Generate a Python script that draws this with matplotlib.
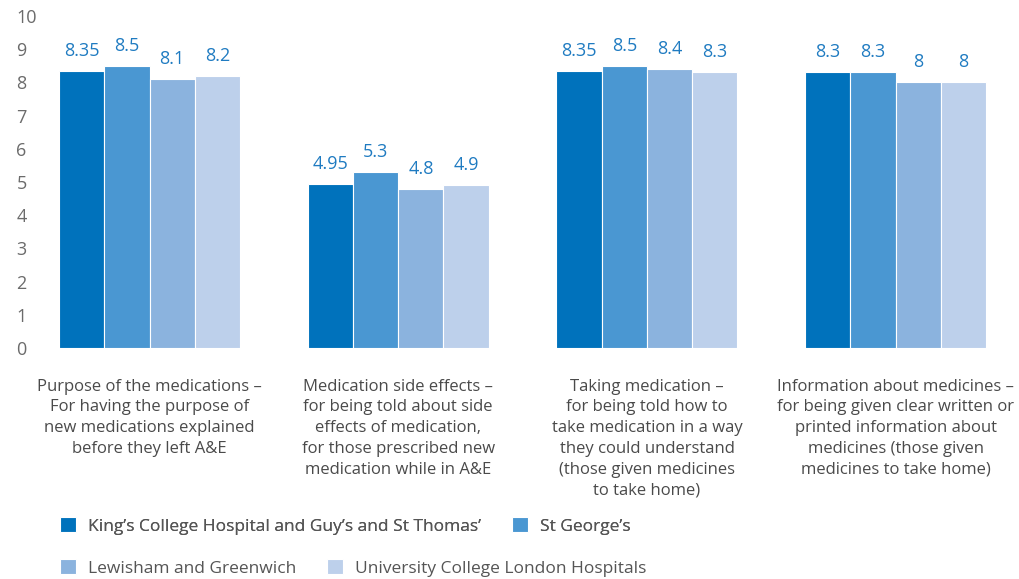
import numpy as np
import matplotlib
matplotlib.use("Agg")
import matplotlib.pyplot as plt

plt.rcParams['font.family'] = ['Open Sans', 'DejaVu Sans']

categories = [
    "Purpose of the medications –\nFor having the purpose of\nnew medications explained\nbefore they left A&E",
    "Medication side effects –\nfor being told about side\neffects of medication,\nfor those prescribed new\nmedication while in A&E",
    "Taking medication –\nfor being told how to\ntake medication in a way\nthey could understand\n(those given medicines\nto take home)",
    "Information about medicines –\nfor being given clear written or\nprinted information about\nmedicines (those given\nmedicines to take home)",
]
hospitals = [
    "King’s College Hospital and Guy’s and St Thomas’",
    "St George’s",
    "Lewisham and Greenwich",
    "University College London Hospitals",
]
kings = [8.35, 4.95, 8.35, 8.3]
st_georges = [8.5, 5.3, 8.5, 8.3]
lewisham = [8.1, 4.8, 8.4, 8.0]
uclh = [8.2, 4.9, 8.3, 8.0]
value_labels = [
    ["8.35", "4.95", "8.35", "8.3"],
    ["8.5", "5.3", "8.5", "8.3"],
    ["8.1", "4.8", "8.4", "8"],
    ["8.2", "4.9", "8.3", "8"],
]
colors = ["#0072BC", "#4A97D2", "#8BB3DE", "#BDD0EB"]

series = [kings, st_georges, lewisham, uclh]

fig = plt.figure(figsize=(10.2, 5.79), dpi=100)
ax = fig.add_axes([58 / 1020, 231 / 579, 962 / 1020, 332 / 579])

x = np.arange(len(categories))
w = 0.182
bars = []
for i, vals in enumerate(series):
    b = ax.bar(x + (i - 1.5) * w, vals, w, color=colors[i], edgecolor="white",
               linewidth=0.8, label=hospitals[i])
    bars.append(b)
    for rect, lab in zip(b, value_labels[i]):
        ax.annotate(lab, (rect.get_x() + rect.get_width() / 2, rect.get_height()),
                    xytext=(0, 8), textcoords="offset points", ha="center",
                    va="bottom", fontsize=13, color="#1F7BC1")

ax.set_xlim(-0.368, 3.5)
ax.set_ylim(0, 10)
ax.set_yticks(range(0, 11))
ax.tick_params(axis="y", length=0, labelsize=13, labelcolor="#6b6b6b", pad=30)
for lab in ax.get_yticklabels():
    lab.set_horizontalalignment("left")
ax.set_xticks(x)
ax.set_xticklabels(categories)
ax.tick_params(axis="x", length=0, labelsize=12, labelcolor="#4a4a4a", pad=22)
for lab in ax.get_xticklabels():
    lab.set_linespacing(1.4)
for s in ax.spines.values():
    s.set_visible(False)

leg_kw = dict(frameon=False, fontsize=12.5, labelcolor="#555555", handlelength=0.9,
              handleheight=0.9, handletextpad=0.7, columnspacing=1.8, ncol=2,
              loc="center left", borderaxespad=0, borderpad=0)
leg1 = fig.legend(bars[:2], hospitals[:2], bbox_to_anchor=(60 / 1020, 1 - 526 / 579), **leg_kw)
fig.add_artist(leg1)
fig.legend(bars[2:], hospitals[2:], bbox_to_anchor=(60 / 1020, 1 - 568 / 579), **leg_kw)

fig.savefig("out.png", dpi=100)
